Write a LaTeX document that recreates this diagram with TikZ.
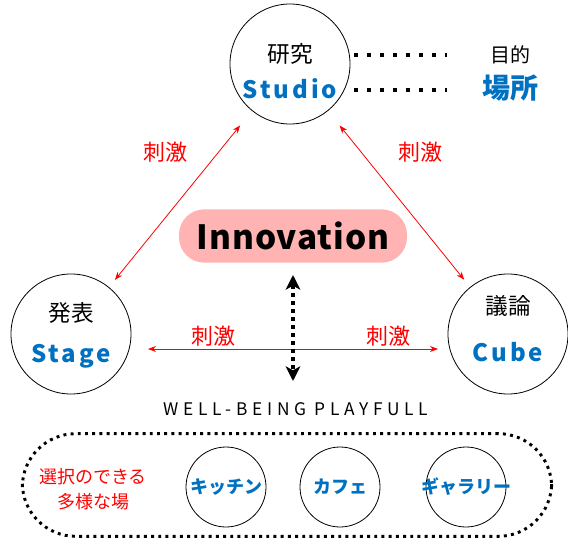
\documentclass[tikz,border=0pt]{standalone}
\usepackage{fontspec}
\setmainfont{Noto Sans CJK JP}
\newfontfamily\jp{Noto Sans CJK JP}
\newfontfamily\latsp[LetterSpace=12]{Noto Sans CJK JP}
\newfontfamily\innofont[LetterSpace=3]{Noto Sans CJK JP}
\newfontfamily\wellfont[LetterSpace=27]{Noto Sans CJK JP}
\usetikzlibrary{arrows.meta}
\definecolor{myblue}{RGB}{0,112,192}
\definecolor{mypink}{RGB}{255,179,179}
\definecolor{myred}{RGB}{255,0,0}
\begin{document}
\begin{tikzpicture}[x=0.75pt,y=-0.75pt,
  bigcirc/.style={circle,draw=black,line width=0.6pt,minimum size=90pt,inner sep=0pt},
  smallcirc/.style={circle,draw=black,line width=0.6pt,minimum size=60pt,inner sep=0pt},
  jplabel/.style={font=\jp\fontsize{17}{19}\selectfont,text=black},
  enlabel/.style={font=\latsp\bfseries\fontsize{18}{20}\selectfont,text=myblue},
  stim/.style={font=\jp\fontsize{16.5}{18}\selectfont,text=myred},
  redarrow/.style={draw=myred,line width=0.6pt,{Stealth[length=6pt,width=4.5pt]}-{Stealth[length=6pt,width=4.5pt]}},
  dotline/.style={draw=black,line width=3pt,dash pattern=on 3pt off 6.8pt},
  placetext/.style={font=\jp\bfseries\fontsize{13.5}{15}\selectfont,text=myblue}
]
\useasboundingbox (0,0) rectangle (568,539);

% main circles
\node[bigcirc] (studio) at (290,64) {};
\node[bigcirc] (stage) at (71,334) {};
\node[bigcirc] (cube) at (508,334) {};

\node[jplabel] (studioj) at (290,54) {研究};
\node[enlabel] (studioe) at (290,89) {Studio};
\node[jplabel] (stagej) at (71,313) {発表};
\node[enlabel] (stagee) at (71,356) {Stage};
\node[jplabel] (cubej) at (508,306) {議論};
\node[enlabel] (cubee) at (508,352) {Cube};

% purpose / place
\node[font=\jp\fontsize{15}{17}\selectfont] (mokuteki) at (510,55) {目的};
\node[font=\jp\bfseries\fontsize{21}{23}\selectfont,text=myblue] (basho) at (510,88) {場所};
\coordinate (d1s) at (354,55);
\coordinate (d1e) at (447,55);
\coordinate (d2s) at (354,90);
\coordinate (d2e) at (447,90);
\draw[dotline] (d1s) -- (d1e);
\draw[dotline] (d2s) -- (d2e);

% diagonal arrows
\draw[redarrow,shorten <=14pt,shorten >=7pt] (studio) -- (stage);
\draw[redarrow,shorten <=14pt,shorten >=7pt] (studio) -- (cube);
\node[stim] (s1) at (165,152) {刺激};
\node[stim] (s2) at (420,152) {刺激};

% innovation
\node[fill=mypink,rounded corners=19pt,minimum width=171pt,minimum height=40pt,inner sep=0pt,
  font=\innofont\bfseries\fontsize{25}{27}\selectfont] (inno) at (293,236) {Innovation};

% horizontal arrow
\coordinate (hL) at (148,349);
\coordinate (hR) at (438,349);
\draw[redarrow] (hL) -- (hR);
\node[stim] (s3) at (213,336) {刺激};
\node[stim] (s4) at (388,336) {刺激};

% vertical dotted arrow
\coordinate (vT) at (293,275);
\coordinate (vB) at (293,381);
\draw[line width=3pt,dash pattern=on 3pt off 3pt,
  {Stealth[length=11pt,width=11pt,inset=3pt]}-{Stealth[length=11pt,width=11pt,inset=3pt]}] (vT) -- (vB);

% well-being
\node[font=\wellfont\fontsize{13}{15}\selectfont] (well) at (296,409) {WELL-BEING PLAYFULL};

% bottom group
\node[draw=black,line width=2.2pt,dash pattern=on 2.2pt off 3.2pt,rounded corners=40pt,
  minimum width=397pt,minimum height=77pt] (group) at (287,485) {};
\node[font=\jp\fontsize{13.5}{19}\selectfont,text=myred,align=center] (choice) at (93,489) {選択のできる\\多様な場};
\node[smallcirc] (kitchen) at (226,487) {};
\node[smallcirc] (cafe) at (340,487) {};
\node[smallcirc] (gallery) at (466,487) {};
\node[placetext] at (kitchen) {キッチン};
\node[placetext] at (cafe) {カフェ};
\node[placetext] at (gallery) {ギャラリー};
\end{tikzpicture}
\end{document}
